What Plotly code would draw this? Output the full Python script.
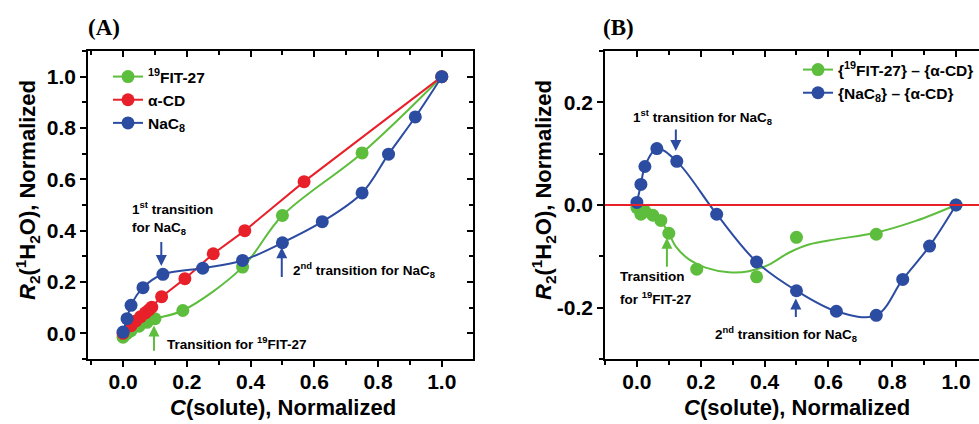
import plotly.graph_objects as go

# ---------------- data ----------------
# Panel A
fit_x = [0, 0.0125, 0.025, 0.05, 0.075, 0.1, 0.1875, 0.375, 0.5, 0.75, 1.0]
fit_y = [-0.015, 0.0, 0.01, 0.028, 0.043, 0.057, 0.089, 0.258, 0.459, 0.703, 1.0]

acd_x = [0, 0.025, 0.04, 0.055, 0.07, 0.08, 0.09, 0.121, 0.194, 0.283, 0.382, 0.568, 1.0]
acd_y = [0.0, 0.03, 0.048, 0.065, 0.08, 0.09, 0.102, 0.143, 0.213, 0.31, 0.4, 0.591, 1.0]

nac_x = [0, 0.0125, 0.025, 0.0625, 0.125, 0.25, 0.375, 0.5, 0.625, 0.75, 0.833, 0.917, 1.0]
nac_y = [0.005, 0.057, 0.109, 0.178, 0.23, 0.254, 0.284, 0.353, 0.435, 0.547, 0.698, 0.843, 1.0]

# Panel B (differences)
dfit_x = [0, 0.0125, 0.025, 0.05, 0.075, 0.1, 0.1875, 0.375, 0.5, 0.75, 1.0]
dfit_y = [-0.005, -0.018, -0.012, -0.02, -0.03, -0.055, -0.125, -0.14, -0.063, -0.057, 0.0]
# smooth fitted curve for the green difference
dfit_curve_x = [0, 0.025, 0.05, 0.075, 0.1, 0.121, 0.163, 0.215, 0.288, 0.351, 0.414, 0.476, 0.539, 0.623, 0.748, 0.874, 1.0]
dfit_curve_y = [0, -0.012, -0.02, -0.032, -0.055, -0.08, -0.106, -0.122, -0.131, -0.129, -0.116, -0.093, -0.077, -0.067, -0.054, -0.031, 0.0]

dnac_x = [0, 0.0125, 0.025, 0.0625, 0.125, 0.25, 0.375, 0.5, 0.625, 0.75, 0.833, 0.917, 1.0]
dnac_y = [0.005, 0.04, 0.075, 0.11, 0.085, -0.018, -0.111, -0.167, -0.207, -0.215, -0.145, -0.08, 0.0]

x_ticks = [0, 0.2, 0.4, 0.6, 0.8, 1.0]
x_labels = ["0.0", "0.2", "0.4", "0.6", "0.8", "1.0"]
yA_ticks = [0, 0.2, 0.4, 0.6, 0.8, 1.0]
yA_labels = ["0.0", "0.2", "0.4", "0.6", "0.8", "1.0"]
yB_ticks = [-0.2, 0.0, 0.2]
yB_labels = ["-0.2", "0.0", "0.2"]

# ---------------- style ----------------
GREEN = "#5dbd3c"
RED = "#e8202a"
BLUE = "#2c4ca2"
SANS = "Liberation Sans"
MS = 13
W, H = 979, 424

fig = go.Figure()

# Panel A traces
fig.add_trace(go.Scatter(x=fit_x, y=fit_y, mode="lines+markers", name="<sup>19</sup>FIT-27",
                         line=dict(color=GREEN, width=2, shape="spline"),
                         marker=dict(color=GREEN, size=MS), xaxis="x", yaxis="y", legend="legend",
                         legendgroup="a1"))
fig.add_trace(go.Scatter(x=acd_x, y=acd_y, mode="lines+markers", name="α-CD",
                         line=dict(color=RED, width=2),
                         marker=dict(color=RED, size=MS), xaxis="x", yaxis="y", legend="legend",
                         legendgroup="a2"))
fig.add_trace(go.Scatter(x=nac_x, y=nac_y, mode="lines+markers", name="NaC<sub>8</sub>",
                         line=dict(color=BLUE, width=2, shape="spline"),
                         marker=dict(color=BLUE, size=MS), xaxis="x", yaxis="y", legend="legend",
                         legendgroup="a3"))

# Panel B traces
fig.add_trace(go.Scatter(x=dfit_curve_x, y=dfit_curve_y, mode="lines", showlegend=False,
                         line=dict(color=GREEN, width=2, shape="spline"), xaxis="x2", yaxis="y2"))
fig.add_trace(go.Scatter(x=dfit_x, y=dfit_y, mode="markers", showlegend=False,
                         marker=dict(color=GREEN, size=MS), xaxis="x2", yaxis="y2"))
fig.add_trace(go.Scatter(x=[None], y=[None], mode="lines+markers", name="{<sup>19</sup>FIT-27} – {α-CD}",
                         line=dict(color=GREEN, width=2), marker=dict(color=GREEN, size=MS),
                         xaxis="x2", yaxis="y2", legend="legend2", legendgroup="b1"))
fig.add_trace(go.Scatter(x=dnac_x, y=dnac_y, mode="lines+markers", name="{NaC<sub>8</sub>} – {α-CD}",
                         line=dict(color=BLUE, width=2, shape="spline"),
                         marker=dict(color=BLUE, size=MS), xaxis="x2", yaxis="y2", legend="legend2",
                         legendgroup="b2"))

# empty traces so the mirrored frame axes (top / right) get drawn
for xa, ya in [("x3", "y"), ("x", "y3"), ("x4", "y2")]:
    fig.add_trace(go.Scatter(x=[None], y=[None], mode="markers", showlegend=False, hoverinfo="skip",
                             xaxis=xa, yaxis=ya))

# ---------------- axes ----------------
tickfont = dict(family=SANS, size=21, color="black", weight="bold")
minor_out = dict(tickmode="linear", tick0=0, dtick=0.1, ticks="outside", ticklen=4, tickwidth=1.5, tickcolor="black")
minor_in = dict(tickmode="linear", tick0=0, dtick=0.1, ticks="inside", ticklen=4, tickwidth=1.5, tickcolor="black")

def base_axis(**kw):
    d = dict(showline=True, linecolor="black", linewidth=1.6, ticks="outside", ticklen=6, tickwidth=1.6,
             tickcolor="black", showgrid=False, zeroline=False, tickfont=tickfont, tickmode="array")
    d.update(kw)
    return d

domA = [88 / W, 473 / W]
domB = [605 / W, 1.0]
domY = [1 - 359 / H, 1 - 51 / H]
xA_range = [-0.11, 1.098]

fig.update_layout(
    xaxis=base_axis(domain=domA, range=xA_range, anchor="y", tickvals=x_ticks, ticktext=x_labels,
                    minor=minor_out, ticklabelstandoff=-3),
    yaxis=base_axis(domain=domY, range=[-0.1, 1.1], anchor="x", tickvals=yA_ticks, ticktext=yA_labels, minor=minor_out),
    xaxis3=base_axis(overlaying="x", side="top", anchor="y", range=xA_range, tickvals=x_ticks,
                     showticklabels=False, ticks="inside", minor=minor_in),
    yaxis3=base_axis(overlaying="y", side="right", anchor="x", range=[-0.1, 1.1], tickvals=yA_ticks,
                     showticklabels=False, ticks="inside", minor=minor_in),
    xaxis2=base_axis(domain=domB, range=[-0.1, 1.072], anchor="y2", tickvals=x_ticks, ticktext=x_labels,
                     minor=minor_out, ticklabelstandoff=-3),
    yaxis2=base_axis(domain=domY, range=[-0.3, 0.3], anchor="x2", tickvals=yB_ticks, ticktext=yB_labels, minor=minor_out),
    xaxis4=base_axis(overlaying="x2", side="top", anchor="y2", range=[-0.1, 1.072], tickvals=x_ticks,
                     showticklabels=False, ticks="inside", minor=minor_in),
)

fig.update_layout(
    width=W, height=H, margin=dict(l=0, r=0, t=0, b=0),
    paper_bgcolor="white", plot_bgcolor="white",
    legend=dict(x=108 / W, y=1 - 60 / H, xanchor="left", yanchor="top", bgcolor="rgba(0,0,0,0)",
                font=dict(family=SANS, size=15.5, color="black", weight="bold"),
                traceorder="grouped", tracegroupgap=0, itemwidth=30),
    legend2=dict(x=798 / W, y=1 - 53 / H, xanchor="left", yanchor="top", bgcolor="rgba(0,0,0,0)",
                 font=dict(family=SANS, size=15.5, color="black", weight="bold"),
                 traceorder="grouped", tracegroupgap=0, itemwidth=30),
)

# red zero line in panel B
fig.add_shape(type="line", xref="x2 domain", x0=0, x1=1, yref="y2", y0=0, y1=0,
              line=dict(color=RED, width=2), layer="above")

# ---------------- annotations ----------------
afont = dict(family=SANS, size=13.5, color="black", weight="bold")
tfont = dict(family=SANS, size=22, color="black", weight="bold")

def txt(x, y, xr, yr, s):
    fig.add_annotation(x=x, y=y, xref=xr, yref=yr, text=s, showarrow=False, xanchor="left",
                       yanchor="middle", font=afont)

def arrow(x, y0, y1, xr, yr, color):
    fig.add_annotation(x=x, y=y1, ax=x, ay=y0, xref=xr, yref=yr, axref=xr, ayref=yr, text="",
                       showarrow=True, arrowhead=2, arrowsize=1.1, arrowwidth=2, arrowcolor=color)

# Panel A
txt(0.022, 0.49, "x", "y", "1<sup>st</sup> transition")
txt(0.022, 0.409, "x", "y", "for NaC<sub>8</sub>")
arrow(0.12, 0.362, 0.262, "x", "y", BLUE)
txt(0.527, 0.245, "x", "y", "2<sup>nd</sup> transition for NaC<sub>8</sub>")
arrow(0.498, 0.214, 0.335, "x", "y", BLUE)
txt(0.132, -0.039, "x", "y", "Transition for <sup>19</sup>FIT-27")
arrow(0.097, -0.074, 0.031, "x", "y", GREEN)

# Panel B
txt(-0.019, 0.172, "x2", "y2", "1<sup>st</sup> transition for NaC<sub>8</sub>")
arrow(0.122, 0.150, 0.105, "x2", "y2", BLUE)
txt(-0.06, -0.139, "x2", "y2", "Transition")
txt(-0.06, -0.182, "x2", "y2", "for <sup>19</sup>FIT-27")
arrow(0.094, -0.123, -0.064, "x2", "y2", GREEN)
txt(0.238, -0.252, "x2", "y2", "2<sup>nd</sup> transition for NaC<sub>8</sub>")
arrow(0.498, -0.221, -0.182, "x2", "y2", BLUE)

# axis titles
ytitle = "<i>R</i><sub>2</sub>(<sup>1</sup>H<sub>2</sub>O), Normalized"
xtitle = "<i>C</i>(solute), Normalized"
fig.add_annotation(x=27 / W, y=1 - 190 / H, xref="paper", yref="paper", text=ytitle, textangle=-90,
                   showarrow=False, font=tfont, xanchor="center", yanchor="middle")
fig.add_annotation(x=543 / W, y=1 - 190 / H, xref="paper", yref="paper", text=ytitle, textangle=-90,
                   showarrow=False, font=tfont, xanchor="center", yanchor="middle")
fig.add_annotation(x=283 / W, y=1 - 407 / H, xref="paper", yref="paper", text=xtitle,
                   showarrow=False, font=tfont, xanchor="center", yanchor="middle")
fig.add_annotation(x=797 / W, y=1 - 407 / H, xref="paper", yref="paper", text=xtitle,
                   showarrow=False, font=tfont, xanchor="center", yanchor="middle")

# panel labels
pfont = dict(family="Liberation Serif", size=23, color="black", weight="bold")
fig.add_annotation(x=86 / W, y=1 - 28 / H, xref="paper", yref="paper", text="(A)", showarrow=False,
                   font=pfont, xanchor="left", yanchor="middle")
fig.add_annotation(x=601 / W, y=1 - 28 / H, xref="paper", yref="paper", text="(B)", showarrow=False,
                   font=pfont, xanchor="left", yanchor="middle")

fig.write_html("out.html", config={"displayModeBar": False},
               post_script="document.body.style.margin='0';document.body.style.overflow='hidden';")
